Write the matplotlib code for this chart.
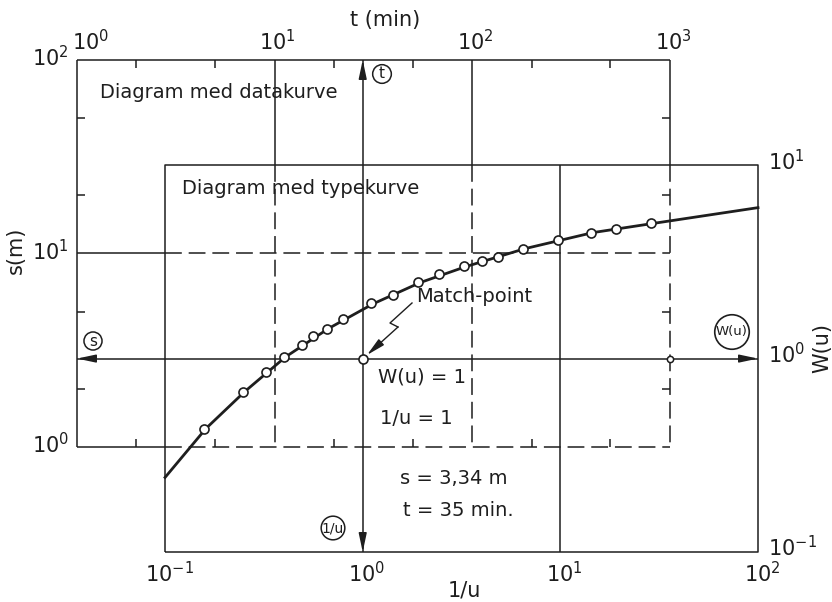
import matplotlib
matplotlib.use('Agg')
import matplotlib.pyplot as plt
from matplotlib.lines import Line2D

W_PX, H_PX = 832, 602
INK = '#1e1e1e'

# match point: type curve (1/u = 1, W(u) = 1) lands on data (t, s)
T_MATCH = 27.9
S_MATCH = 2.86

# type curve W(u) against 1/u
INV_U = [0.1, 0.161, 0.253, 0.407, 0.671, 1.13, 1.95, 3.33, 6.61, 14.6, 29.2, 100]
W_U = [0.243, 0.435, 0.675, 1.02, 1.43, 1.92, 2.47, 2.99, 3.70, 4.48, 4.99, 6.03]

# field data: time t (min) and drawdown s (m)
T_DATA = [4.4, 6.9, 9.0, 11.1, 13.7, 15.7, 18.3, 22.3, 30.9, 39.9,
          53.4, 68.1, 91.1, 112, 135, 181, 272, 399, 534, 802]
S_DATA = [1.24, 1.93, 2.45, 2.93, 3.38, 3.72, 4.09, 4.60, 5.51, 6.13,
          7.08, 7.79, 8.56, 9.09, 9.53, 10.6, 11.7, 12.8, 13.3, 14.3]

T_DECADES = [1, 10, 100, 1000]
T_LABELS = ['$10^0$', '$10^1$', '$10^2$', '$10^3$']
S_DECADES = [1, 10, 100]
S_LABELS = ['$10^0$', '$10^1$', '$10^2$']
INV_U_DECADES = [0.1, 1, 10, 100]
INV_U_LABELS = ['$10^{-1}$', '$10^0$', '$10^1$', '$10^2$']
W_DECADES = [0.1, 1, 10]
W_LABELS = ['$10^{-1}$', '$10^0$', '$10^1$']
MINOR = [2, 5]

plt.rcParams['font.family'] = 'DejaVu Sans'
plt.rcParams['mathtext.default'] = 'regular'

fig = plt.figure(figsize=(W_PX / 100, H_PX / 100), dpi=100)
fig.patch.set_facecolor('white')


def fx(x):
    return x / W_PX


def fy(y):
    return 1 - y / H_PX


def px(x, y):
    # image pixel (origin top left) -> figure pixels
    return (x, H_PX - y)


ax = fig.add_axes([fx(77), fy(552), (758 - 77) / W_PX, (552 - 60) / H_PX])
ax.set_xscale('log')
ax.set_yscale('log')
ax.set_xlim(1, T_MATCH * INV_U_DECADES[-1])
ax.set_ylim(S_MATCH * W_DECADES[0], S_DECADES[-1])
ax.axis('off')

solid = dict(color=INK, lw=1.1, solid_capstyle='butt')
dashed = dict(color=INK, lw=1.1, dashes=(11, 4.5))


def seg(x, y, style):
    ax.plot(x, y, clip_on=False, **style)


t0, t1 = T_DECADES[0], T_DECADES[-1]
s0, s1 = S_DECADES[0], S_DECADES[-1]
tl, tr = T_MATCH * INV_U_DECADES[0], T_MATCH * INV_U_DECADES[-1]
sb, st = S_MATCH * W_DECADES[0], S_MATCH * W_DECADES[-1]

# data diagram frame and grid (dashed where it lies over the type diagram)
seg([t0, t1], [s1, s1], solid)
seg([t0, t0], [s0, s1], solid)
seg([t1, t1], [s1, st], solid)
seg([t1, t1], [st, s0], dashed)
seg([t0, tl], [s0, s0], solid)
seg([tl, t1], [s0, s0], dashed)
for t in T_DECADES[1:-1]:
    seg([t, t], [s1, st], solid)
    seg([t, t], [st, s0], dashed)
for s in S_DECADES[1:-1]:
    seg([t0, tl], [s, s], solid)
    seg([tl, t1], [s, s], dashed)

# minor ticks of the data diagram, pointing inward
t_minor = [m * d for d in T_DECADES[:-1] for m in MINOR]
s_minor = [m * d for d in S_DECADES[:-1] for m in MINOR]
tick = dict(color=INK, ms=6, mew=1.1, ls='none', clip_on=False)
ax.plot(t_minor, [s1] * len(t_minor), marker=3, **tick)
ax.plot(t_minor, [s0] * len(t_minor), marker=2, **tick)
ax.plot([t0] * len(s_minor), s_minor, marker=1, **tick)
ax.plot([t1] * len(s_minor), s_minor, marker=0, **tick)

# type diagram frame and its grid lines through the match point
seg([tl, tr, tr, tl, tl], [sb, sb, st, st, sb], solid)
seg([T_MATCH * 10] * 2, [sb, st], solid)
seg([T_MATCH] * 2, [sb, s1], solid)
seg([t0, tr], [S_MATCH] * 2, solid)


def arrow(tip, tail):
    ax.annotate('', xy=tip, xytext=tail, annotation_clip=False,
                arrowprops=dict(arrowstyle='-|>,head_length=0.8,head_width=0.17',
                                color=INK, lw=1.1, shrinkA=0, shrinkB=0,
                                mutation_scale=14))


arrow((T_MATCH, s1), (T_MATCH, s1 / 1.2))
arrow((T_MATCH, sb), (T_MATCH, sb * 1.2))
arrow((t0, S_MATCH), (t0 * 1.2, S_MATCH))
arrow((tr, S_MATCH), (tr / 1.2, S_MATCH))

# type curve and data points
ax.plot([T_MATCH * v for v in INV_U], [S_MATCH * w for w in W_U],
        color=INK, lw=2.0, clip_on=False, zorder=4)
ax.plot(T_DATA, S_DATA, 'o', ms=6.5, mfc='white', mec=INK, mew=1.2,
        clip_on=False, zorder=5)
ax.plot([T_MATCH], [S_MATCH], 'o', ms=6.5, mfc='white', mec=INK, mew=1.2,
        clip_on=False, zorder=5)
ax.plot([t1], [S_MATCH], 'o', ms=4.5, mfc='white', mec=INK, mew=1.1,
        clip_on=False, zorder=5)


def lab(txt, xy, dxy, ha, va, size=15):
    ax.annotate(txt, xy, xytext=dxy, textcoords='offset pixels', ha=ha, va=va,
                fontsize=size, color=INK, annotation_clip=False)


for t, txt in zip(T_DECADES, T_LABELS):
    if t == t0:
        lab(txt, (t, s1), (-5, 10), 'left', 'baseline')
    else:
        lab(txt, (t, s1), (3, 10), 'center', 'baseline')
for s, txt in zip(S_DECADES, S_LABELS):
    lab(txt, (t0, s), (-8, 2), 'right', 'center')
for v, txt in zip(INV_U_DECADES, INV_U_LABELS):
    lab(txt, (T_MATCH * v, sb), (4, -9), 'center', 'top')
for w, txt in zip(W_DECADES, W_LABELS):
    lab(txt, (tr, S_MATCH * w), (10, 4), 'left', 'center')

# axis titles
fig.text(fx(385), fy(20), 't (min)', ha='center', va='center', fontsize=15, color=INK)
fig.text(fx(16), fy(250), 's(m)', ha='center', va='center', fontsize=15,
         rotation=90, color=INK)
fig.text(fx(822), fy(348), 'W(u)', ha='center', va='center', fontsize=15,
         rotation=90, color=INK)
fig.text(fx(464), fy(590), '1/u', ha='center', va='center', fontsize=15, color=INK)

# annotations
note = dict(fontsize=14, color=INK, va='center', ha='left')
fig.text(fx(100), fy(92), 'Diagram med datakurve', **note)
fig.text(fx(182), fy(189), 'Diagram med typekurve', **note)
fig.text(fx(416), fy(297), 'Match-point', **note)
fig.text(fx(378), fy(377), 'W(u) = 1', **note)
fig.text(fx(380), fy(418), '1/u = 1', **note)
fig.text(fx(400), fy(478), 's = 3,34 m', **note)
fig.text(fx(403), fy(511), 't = 35 min.', **note)

circ = dict(ha='center', va='center', color=INK)
fig.text(fx(382), fy(74), 't', fontsize=11, **circ,
         bbox=dict(boxstyle='circle,pad=0.12', fc='white', ec=INK, lw=1.1))
fig.text(fx(93), fy(341), 's', fontsize=11, **circ,
         bbox=dict(boxstyle='circle,pad=0.1', fc='white', ec=INK, lw=1.1))
fig.text(fx(732), fy(332), 'W(u)', fontsize=9.5, **circ,
         bbox=dict(boxstyle='circle,pad=0.1', fc='white', ec=INK, lw=1.2))
fig.text(fx(333), fy(528), '1/u', fontsize=10, **circ,
         bbox=dict(boxstyle='circle,pad=0.05', fc='white', ec=INK, lw=1.1))

# lightning-bolt pointer to the match point
zx = [412, 390, 398]
zy = [303, 323, 327]
fig.add_artist(Line2D([fx(x) for x in zx], [fy(y) for y in zy], color=INK, lw=1.0))
ax.annotate('', xy=px(367, 355), xycoords='figure pixels',
            xytext=px(398, 327), textcoords='figure pixels',
            arrowprops=dict(arrowstyle='-|>,head_length=0.8,head_width=0.17',
                            color=INK, lw=1.0, shrinkA=0, shrinkB=0,
                            mutation_scale=14))

fig.savefig('out.png', dpi=100, facecolor='white')
